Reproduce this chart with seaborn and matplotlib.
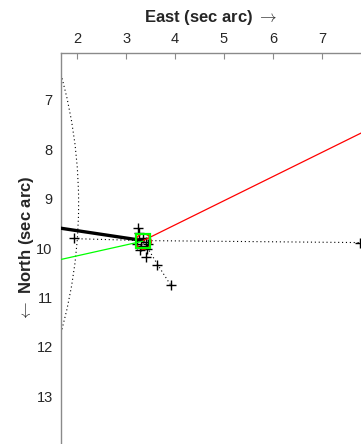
import matplotlib
matplotlib.use("Agg")
import matplotlib.pyplot as plt
from matplotlib.patches import Circle
import pandas as pd
import seaborn as sns

# Measured offsets (sec arc)
obs_east = [1.93, 3.25, 3.27, 3.22, 3.35, 3.40, 3.30, 3.45, 3.28, 3.42, 3.40, 3.64, 3.91, 7.77]
obs_north = [9.80, 9.60, 9.70, 9.92, 9.80, 9.88, 9.95, 9.92, 10.05, 10.02, 10.18, 10.35, 10.75, 9.89]

# Reference position
ref_east = [3.35]
ref_north = [9.85]

# Dotted tracks through the outlying measurements
track_east = [1.93, 3.35, 7.77]
track_north = [9.81, 9.85, 9.89]
trail_east = [3.35, 3.64, 3.91]
trail_north = [9.85, 10.33, 10.75]

# Direction rays from the reference position
black_east = [3.35, 1.00]
black_north = [9.85, 9.50]
green_east = [3.35, 1.00]
green_north = [9.86, 10.38]
red_east = [3.35, 8.50]
red_north = [9.85, 7.33]

# Limiting circle (centre east, centre north, radius)
arc_east, arc_north, arc_radius = -7.67, 9.10, 9.7

x_ticks = [2, 3, 4, 5, 6, 7]
y_ticks = [7, 8, 9, 10, 11, 12, 13]

sns.set_theme(style="white")
plt.rcParams["font.family"] = ["Liberation Sans", "DejaVu Sans"]
plt.rcParams["mathtext.fontset"] = "cm"

W, H = 361, 444
fig = plt.figure(figsize=(W / 100, H / 100), dpi=100)
ax = fig.add_axes([61 / W, 0, 300 / W, 391 / H])

axis_color = "#8a8a8a"
text_color = "#262626"

# limiting circle, dotted
ax.add_patch(Circle((arc_east, arc_north), arc_radius, fill=False,
                    edgecolor="black", linewidth=0.8, linestyle=(0, (1, 2.5))))

dotted = dict(color="black", linewidth=0.8, linestyle=(0, (1, 2.5)))
ax.plot(track_east, track_north, **dotted)
ax.plot(trail_east, trail_north, **dotted)

obs = pd.DataFrame({"east": obs_east, "north": obs_north})
sns.scatterplot(data=obs, x="east", y="north", marker="+", s=50,
                color="black", linewidth=1.0, ax=ax, zorder=3)

rays = pd.concat([
    pd.DataFrame({"east": black_east, "north": black_north, "ray": "black"}),
    pd.DataFrame({"east": green_east, "north": green_north, "ray": "green"}),
    pd.DataFrame({"east": red_east, "north": red_north, "ray": "red"}),
])
for name, col, lw in [("black", "black", 2.4), ("green", "#00ff00", 0.9), ("red", "#ff0000", 0.9)]:
    sub = rays[rays["ray"] == name]
    sns.lineplot(data=sub, x="east", y="north", sort=False, estimator=None,
                 color=col, linewidth=lw, ax=ax, zorder=4)

ax.plot(ref_east, ref_north, marker="o", markersize=11, markerfacecolor="none",
        markeredgecolor="#ff0000", markeredgewidth=1.0, linestyle="none", zorder=5)
ax.plot(ref_east, ref_north, marker="s", markersize=9.5, markerfacecolor="none",
        markeredgecolor="#00ff00", markeredgewidth=1.6, linestyle="none", zorder=6)

ax.set_xlim(1.67, 7.80)
ax.set_ylim(13.97, 6.05)
ax.set_xticks(x_ticks)
ax.set_yticks(y_ticks)

ax.xaxis.tick_top()
ax.xaxis.set_label_position("top")
for side in ("right", "bottom"):
    ax.spines[side].set_visible(False)
for side in ("top", "left"):
    ax.spines[side].set_color(axis_color)
    ax.spines[side].set_linewidth(1.0)

ax.tick_params(axis="both", direction="in", length=4, width=0.8, color=axis_color,
               labelcolor=text_color, labelsize=10.5)
ax.tick_params(axis="x", pad=5)
ax.tick_params(axis="y", pad=6)

ax.set_xlabel(r"East (sec arc) $\rightarrow$", fontsize=12, fontweight="bold",
              color=text_color, labelpad=7)
ax.set_ylabel(r"$\leftarrow$ North (sec arc)", fontsize=12, fontweight="bold",
              color=text_color, labelpad=0.5)

fig.savefig("out.png", dpi=100)
